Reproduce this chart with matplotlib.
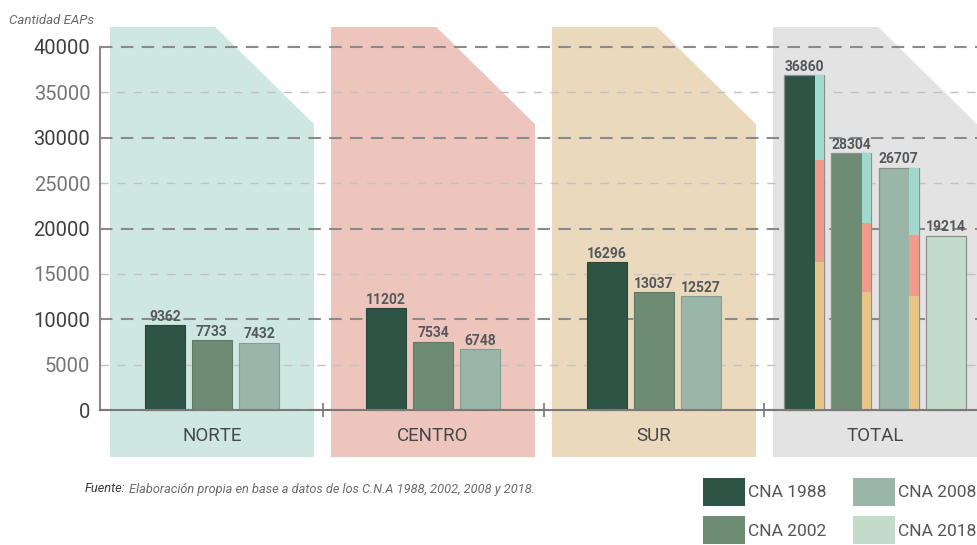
import matplotlib
matplotlib.use('Agg')
import matplotlib.pyplot as plt
from matplotlib.patches import Polygon, Patch
import numpy as np

plt.rcParams['font.family'] = ['Roboto', 'DejaVu Sans']
plt.rcParams['lines.scale_dashes'] = False

# ---------------- data ----------------
regions = ['NORTE', 'CENTRO', 'SUR']
total_label = 'TOTAL'
census = ['CNA 1988', 'CNA 2002', 'CNA 2008', 'CNA 2018']
norte = [9362, 7733, 7432]
centro = [11202, 7534, 6748]
sur = [16296, 13037, 12527]
totals = [36860, 28304, 26707, 19214]
yticks_major = [0, 10000, 20000, 30000, 40000]
yticks_minor = [5000, 15000, 25000, 35000]

# ---------------- styles ----------------
bar_colors = ['#2e5446', '#6e8b73', '#99b6a8', '#c3dbc9']
bar_edges = ['#27473b', '#5f7a64', '#849f92', '#9fb2a5']
panel_colors = ['#cfe7e1', '#eec5bd', '#ebd9bd', '#e3e3e4']
strip_sur, strip_centro, strip_norte = '#e8c488', '#f09c8d', '#a0d9d0'

W, H = 977, 545
fig = plt.figure(figsize=(W / 100, H / 100), dpi=100)
fig.patch.set_facecolor('white')

px_x = 221.0            # pixels per group
x0_px = 212.0           # pixel of group 0 centre
y0_px = 410.0           # pixel (from top) of value 0
px_val = 363.0 / 40000  # pixels per unit value
ylo, yhi = -5500, 44000
xlo, xhi = (100 - x0_px) / px_x, (W - x0_px) / px_x
ax_bot_px = y0_px + (-ylo) * px_val
ax_h_px = (yhi - ylo) * px_val
ax = fig.add_axes([100 / W, (H - ax_bot_px) / H, (W - 100) / W, ax_h_px / H])
ax.set_xlim(xlo, xhi)
ax.set_ylim(ylo, yhi)
ax.patch.set_alpha(0)

# background panels
half = 0.4615
for i, col in enumerate(panel_colors):
    c = i
    top, ry, bot = 42200, 31500, -5180
    poly = Polygon([(c - half, bot), (c - half, top), (c + 0.015, top),
                    (c + half, ry), (c + half, bot)], closed=True,
                   facecolor=col, edgecolor='none', zorder=0.1)
    ax.add_patch(poly)

step = 0.2127
bw = 0.181
label_kw = dict(ha='center', va='baseline', fontsize=10, fontweight='bold',
                color='#55595c', family=['Liberation Sans Narrow', 'Roboto', 'DejaVu Sans'],
                textcoords='offset points', xytext=(0, 3), zorder=6)

# regional bars
region_vals = [norte, centro, sur]
for i, vals in enumerate(region_vals):
    xs = i + (np.arange(3) - 1) * step
    ax.bar(xs, vals, width=bw, color=bar_colors[:3], edgecolor=bar_edges[:3],
           linewidth=0.8, zorder=2)
    for x, v in zip(xs, vals):
        ax.annotate(f'{v}', (x, v), **label_kw)

# total bars
xt = 3 + (np.arange(4) - 1.5) * step
ax.bar(xt, totals, width=bw, color=bar_colors, edgecolor='#8c8f8e',
       linewidth=0.9, zorder=2)
sw = 0.041
sl = xt[:3] + bw / 2 - sw
sur_a, cen_a, nor_a = np.array(sur), np.array(centro), np.array(norte)
ax.bar(sl, sur_a, width=sw, align='edge', color=strip_sur, zorder=2.2)
ax.bar(sl, cen_a, width=sw, align='edge', bottom=sur_a, color=strip_centro, zorder=2.2)
ax.bar(sl, nor_a, width=sw, align='edge', bottom=sur_a + cen_a, color=strip_norte, zorder=2.2)
for x, v in zip(xt, totals):
    ax.annotate(f'{v}', (x, v), **label_kw)

# category labels
for i, name in enumerate(regions + [total_label]):
    ax.text(i, -2865, name, ha='center', va='center', fontsize=13.5, color='#454849')

# axes styling
ax.set_axisbelow(True)
ax.set_yticks(yticks_major)
ax.set_yticklabels([str(v) for v in yticks_major])
ax.set_yticks(yticks_minor, minor=True)
ax.set_yticklabels([str(v) for v in yticks_minor], minor=True)
ax.tick_params(axis='y', which='both', length=0, pad=7, labelsize=14.5)
ax.tick_params(axis='y', which='major', labelcolor='#3f3f3f')
ax.tick_params(axis='y', which='minor', labelcolor='#757575')
ax.grid(axis='y', which='major', color='#8a8a8a', linewidth=1.5, linestyle=(0, (9, 6)))
ax.grid(axis='y', which='minor', color='#c2c2c2', linewidth=1.0, linestyle=(0, (6, 6)))
ax.set_xticks([0.5, 1.5, 2.5])
ax.set_xticklabels([])
ax.tick_params(axis='x', direction='inout', length=10, width=1.2, color='#777777')
for s in ['top', 'right']:
    ax.spines[s].set_visible(False)
ax.spines['left'].set_bounds(0, 40000)
ax.spines['left'].set_color('#8a8a8a')
ax.spines['left'].set_linewidth(1.5)
ax.spines['bottom'].set_position(('data', 0))
ax.spines['bottom'].set_color('#7a7a7a')
ax.spines['bottom'].set_linewidth(1.5)
ax.spines['bottom'].set_zorder(3)
# small hook at top of the y axis
ax.plot([xlo, xlo + 4 / px_x], [40000, 40000], color='#8a8a8a', lw=1.5,
        solid_capstyle='butt', clip_on=False, zorder=3)

# texts
fig.text(9 / W, 1 - 20 / H, 'Cantidad EAPs', style='italic', fontsize=9.5,
         color='#6a6a6a', va='center', ha='left')
t1 = fig.text(85 / W, 1 - 489 / H, 'Fuente:', style='italic', fontsize=9.2,
              color='#3a3a3a', va='center', ha='left', fontweight='normal')
ax.annotate(' Elaboración propia en base a datos de los C.N.A 1988, 2002, 2008 y 2018.',
            xy=(1, 0), xycoords=t1, va='bottom', ha='left', style='italic',
            fontsize=9.2, color='#6a6a6a', annotation_clip=False)

# legend
handles = [Patch(facecolor=c, edgecolor='none') for c in bar_colors]
fs = 12.5
fpx = fs * 100 / 72
leg = fig.legend(handles, census, loc='upper left',
                 bbox_to_anchor=(703 / W, 1 - 478 / H), ncol=2, frameon=False,
                 fontsize=fs, handlelength=42 / fpx, handleheight=2.1,
                 handletextpad=0.2, columnspacing=1.5, labelspacing=0.6,
                 borderpad=0, borderaxespad=0)
for t in leg.get_texts():
    t.set_color('#555555')

fig.savefig('out.png', dpi=100)
